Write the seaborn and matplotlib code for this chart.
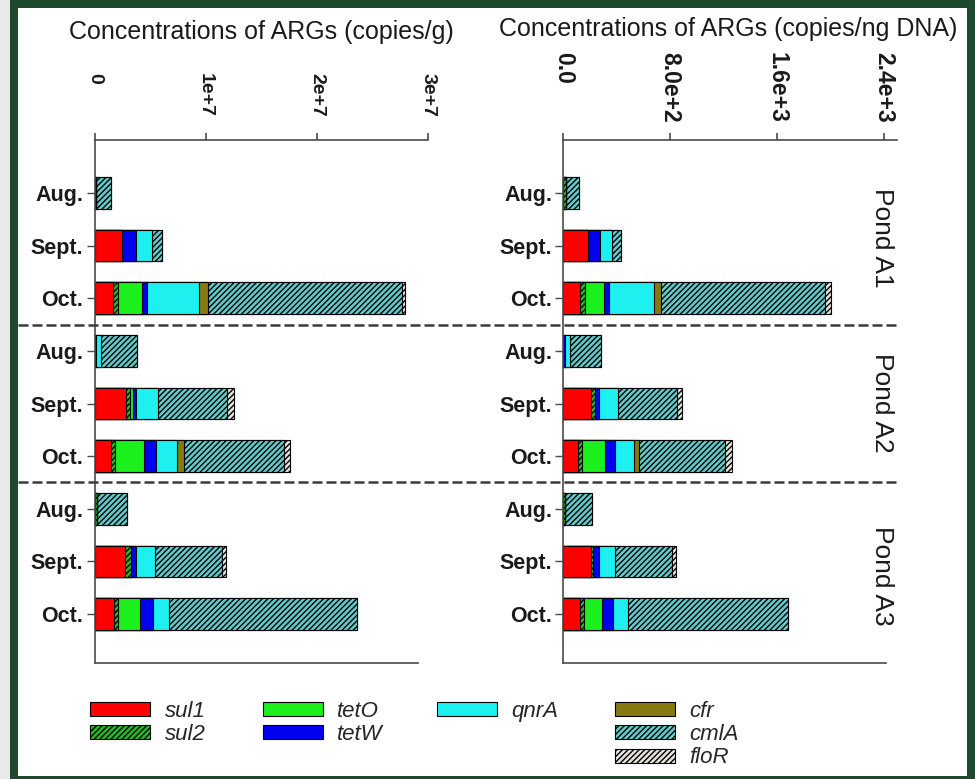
import matplotlib
matplotlib.use("Agg")
import matplotlib.pyplot as plt
import matplotlib.transforms as mtransforms
from matplotlib.patches import Patch, Rectangle
from matplotlib.lines import Line2D
import numpy as np
import pandas as pd
import seaborn as sns

# ---------------------------------------------------------------- data
ponds = ["Pond A1", "Pond A2", "Pond A3"]
months = ["Aug.", "Sept.", "Oct."]
genes = ["sul1", "sul2", "tetO", "tetW", "qnrA", "cfr", "cmlA", "floR"]

# copies per gram, rows = A1 Aug/Sept/Oct, A2 Aug/Sept/Oct, A3 Aug/Sept/Oct
sul1_g = [0, 2.46e6, 1.70e6, 0, 2.85e6, 1.50e6, 0, 2.76e6, 1.71e6]
sul2_g = [0.10e6, 0, 0.45e6, 0, 0.36e6, 0.36e6, 0.20e6, 0.51e6, 0.36e6]
tetO_g = [0, 0, 2.10e6, 0, 0.24e6, 2.55e6, 0, 0, 1.98e6]
tetW_g = [0, 1.29e6, 0.45e6, 0.10e6, 0.30e6, 1.14e6, 0, 0.48e6, 1.20e6]
qnrA_g = [0, 1.41e6, 4.73e6, 0.45e6, 1.92e6, 1.86e6, 0, 1.71e6, 1.41e6]
cfr_g = [0, 0, 0.81e6, 0, 0, 0.60e6, 0, 0, 0]
cmlA_g = [1.40e6, 0.90e6, 17.40e6, 3.30e6, 6.24e6, 9.06e6, 2.70e6, 6.00e6, 16.95e6]
floR_g = [0, 0, 0.30e6, 0, 0.60e6, 0.54e6, 0, 0.36e6, 0]

# copies per ng DNA, same row order
sul1_ng = [0, 185, 124, 0, 204, 110, 0, 204, 122]
sul2_ng = [20, 0, 35, 0, 30, 32, 10, 20, 32]
tetO_ng = [0, 0, 145, 0, 0, 174, 0, 0, 137]
tetW_ng = [0, 87, 37, 15, 32, 75, 0, 42, 82]
qnrA_ng = [0, 95, 337, 34, 142, 137, 0, 125, 110]
cfr_ng = [0, 0, 57, 0, 0, 37, 0, 0, 0]
cmlA_ng = [95, 62, 1227, 230, 444, 648, 202, 424, 1204]
floR_ng = [0, 0, 42, 0, 37, 50, 0, 32, 0]

left_ticks = [0, 1e7, 2e7, 3e7]
left_ticklabels = ["0", "1e+7", "2e+7", "3e+7"]
right_ticks = [0, 800, 1600, 2400]
right_ticklabels = ["0.0", "8.0e+2", "1.6e+3", "2.4e+3"]

# ---------------------------------------------------------------- styles
gene_style = {
    "sul1": dict(color="#ff0000", hatch=None),
    "sul2": dict(color="#22bb22", hatch="//////"),
    "tetO": dict(color="#1cf01c", hatch=None),
    "tetW": dict(color="#0000f0", hatch=None),
    "qnrA": dict(color="#1ef0f0", hatch=None),
    "cfr": dict(color="#857a12", hatch=None),
    "cmlA": dict(color="#62cccc", hatch="//////"),
    "floR": dict(color="#e4e4dc", hatch="//////"),
}

sns.set_theme(style="white")
plt.rcParams["font.family"] = ["Liberation Sans", "DejaVu Sans"]
plt.rcParams["hatch.linewidth"] = 1.0

W, H = 975, 779


def fx(px):
    return px / W


def fy(py):
    return 1 - py / H


fig = plt.figure(figsize=(W / 100, H / 100), dpi=100)
fig.patch.set_facecolor("#1d4a2f")
fig.add_artist(Rectangle((0, 0), fx(10), 1, transform=fig.transFigure,
                         facecolor="#e9e9e9", edgecolor="none", zorder=-10))
fig.add_artist(Rectangle((fx(18), fy(776)), fx(967) - fx(18), fy(8) - fy(776),
                         transform=fig.transFigure, facecolor="white",
                         edgecolor="none", zorder=-10))

row_ids = [f"{p} {m}" for p in ponds for m in months]

frame_g = pd.DataFrame({"row": row_ids, "sul1": sul1_g, "sul2": sul2_g,
                        "tetO": tetO_g, "tetW": tetW_g, "qnrA": qnrA_g,
                        "cfr": cfr_g, "cmlA": cmlA_g, "floR": floR_g})
frame_ng = pd.DataFrame({"row": row_ids, "sul1": sul1_ng, "sul2": sul2_ng,
                         "tetO": tetO_ng, "tetW": tetW_ng, "qnrA": qnrA_ng,
                         "cfr": cfr_ng, "cmlA": cmlA_ng, "floR": floR_ng})

ax_top, ax_bot = 140, 663
ax_g = fig.add_axes([fx(94.5), fy(ax_bot), fx(428) - fx(94.5), fy(ax_top) - fy(ax_bot)])
ax_ng = fig.add_axes([fx(563.3), fy(ax_bot), fx(897) - fx(563.3), fy(ax_top) - fy(ax_bot)])

spine_col = "#4a4a4a"


def stacked(ax, frame, xmax, ticks, ticklabels, bottom_end, tick_pad, tick_size):
    cum = frame[genes].cumsum(axis=1)
    # draw cumulative totals from the outermost gene inwards so each
    # segment covers the part of the previous bar that belongs to it
    for g in reversed(genes):
        st = gene_style[g]
        sns.barplot(x=cum[g].values, y=frame["row"], order=row_ids, orient="h",
                    color=st["color"], saturation=1, errorbar=None, width=0.6,
                    edgecolor="black", linewidth=0.8, hatch=st["hatch"], ax=ax)
    ax.set_facecolor("none")
    ax.set_xlim(0, xmax)
    ax.set_ylim(8.93, -1.007)
    ax.set_xlabel("")
    ax.set_ylabel("")
    ax.set_xticks(ticks)
    ax.set_xticklabels(ticklabels)
    ax.set_yticks(range(len(row_ids)))
    ax.set_yticklabels(months * len(ponds), fontweight="bold", fontsize=15.5)
    for s in ["left", "top", "bottom"]:
        ax.spines[s].set_color(spine_col)
        ax.spines[s].set_linewidth(1.2)
    ax.spines["right"].set_visible(False)
    ax.spines["bottom"].set_bounds(0, bottom_end)
    ax.tick_params(axis="x", top=True, bottom=False, labeltop=True,
                   labelbottom=False, direction="out", length=5, width=1.2,
                   color=spine_col, labelrotation=-90, pad=tick_pad,
                   labelsize=tick_size)
    ax.tick_params(axis="y", left=True, direction="out", length=6, width=1.0,
                   color=spine_col, pad=2)
    for t in ax.xaxis.get_major_ticks():
        t.label2.set_va("top")
        t.label2.set_fontweight("bold")
        t.label2.set_color("#1a1a1a")
    for lbl in ax.get_yticklabels():
        lbl.set_color("#1a1a1a")
    ax.grid(False)


stacked(ax_g, frame_g, 3e7, left_ticks, left_ticklabels, 2.91e7, 43, 14)
stacked(ax_ng, frame_ng, 2500, right_ticks, right_ticklabels, 2420, 58, 16.5)

# dashed separators between ponds, spanning both panels
blend = mtransforms.blended_transform_factory(fig.transFigure, ax_g.transData)
for ysep in [2.5, 5.5]:
    fig.add_artist(Line2D([fx(18), fx(897)], [ysep, ysep], transform=blend,
                          color="#3a3a3a", lw=1.8, linestyle=(0, (4, 1.6)),
                          zorder=5))

# titles
fig.text(fx(261), fy(32), "Concentrations of ARGs (copies/g)", ha="center",
         va="center", fontsize=18, color="#1a1a1a")
fig.text(fx(728), fy(29), "Concentrations of ARGs (copies/ng DNA)", ha="center",
         va="center", fontsize=18, color="#1a1a1a")

# pond labels
for name, yc in zip(ponds, [238, 403, 576]):
    fig.text(fx(882), fy(yc), name, rotation=-90, ha="center", va="center",
             fontsize=19, color="#1a1a1a")

# legend, four groups of entries
def handle(g):
    st = gene_style[g]
    return Patch(facecolor=st["color"], edgecolor="black", linewidth=0.8,
                 hatch=st["hatch"], label=g)


groups = [(["sul1", "sul2"], 90), (["tetO", "tetW"], 263),
          (["qnrA"], 437), (["cfr", "cmlA", "floR"], 615)]
for names, x0 in groups:
    fig.legend(handles=[handle(g) for g in names], loc="upper left",
               bbox_to_anchor=(fx(x0), fy(701)), frameon=False, borderpad=0,
               borderaxespad=0, handlelength=2.7, handleheight=0.6,
               handletextpad=0.65, labelspacing=0.1,
               prop=dict(family="Liberation Sans", style="italic", size=16))

fig.savefig("out.png", dpi=100, facecolor=fig.get_facecolor())
